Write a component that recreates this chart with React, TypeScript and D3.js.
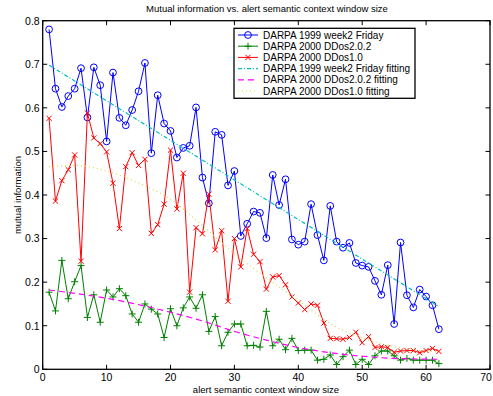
import React, { useEffect, useRef } from 'react';
import * as d3 from 'd3';

// window sizes 1..62
const windowSizes = d3.range(1, 63);

const friday1999 = [
  0.78, 0.644, 0.602, 0.627, 0.644, 0.691, 0.578, 0.693, 0.652, 0.523,
  0.681, 0.577, 0.56, 0.595, 0.638, 0.703, 0.496, 0.629, 0.564, 0.547,
  0.486, 0.508, 0.513, 0.601, 0.44, 0.381, 0.545, 0.538, 0.422, 0.455,
  0.306, 0.334, 0.362, 0.359, 0.301, 0.446, 0.377, 0.436, 0.298, 0.286,
  0.293, 0.379, 0.308, 0.25, 0.375, 0.293, 0.279, 0.29, 0.244, 0.238,
  0.235, 0.203, 0.171, 0.239, 0.104, 0.291, 0.17, 0.142, 0.183, 0.167,
  0.147, 0.092,
];

const ddos202 = [
  0.177, 0.134, 0.25, 0.162, 0.201, 0.238, 0.119, 0.171, 0.108, 0.182,
  0.166, 0.185, 0.169, 0.127, 0.108, 0.15, 0.138, 0.127, 0.073, 0.139,
  0.1, 0.141, 0.166, 0.14, 0.171, 0.087, 0.121, 0.054, 0.085, 0.104,
  0.104, 0.054, 0.055, 0.051, 0.133, 0.054, 0.069, 0.045, 0.071, 0.043,
  0.044, 0.044, 0.021, 0.023, 0.033, 0.011, 0.029, 0.044, 0.011, 0.023,
  0.011, 0.031, 0.042, 0.042, 0.031, 0.021, 0.025, 0.021, 0.021, 0.021,
  0.021, 0.013,
];

const ddos10 = [
  0.576, 0.386, 0.433, 0.458, 0.492, 0.248, 0.588, 0.531, 0.518, 0.499,
  0.427, 0.323, 0.465, 0.497, 0.468, 0.482, 0.312, 0.332, 0.379, 0.503,
  0.368, 0.45, 0.177, 0.325, 0.311, 0.402, 0.274, 0.318, 0.156, 0.3,
  0.235, 0.323, 0.264, 0.247, 0.184, 0.212, 0.215, 0.194, 0.166, 0.152,
  0.137, 0.15, 0.147, 0.106, 0.071, 0.07, 0.069, 0.073, 0.085, 0.061,
  0.075, 0.05, 0.052, 0.05, 0.039, 0.042, 0.043, 0.043, 0.038, 0.043,
  0.048, 0.041,
];

// fitted curves, read at a few window sizes
const fit1999X = [1, 62];
const fit1999Y = [0.698, 0.144];
const fit202X = [1, 10, 20, 25, 30, 35, 40, 45, 50, 55, 62];
const fit202Y = [0.182, 0.163, 0.131, 0.111, 0.087, 0.067, 0.05, 0.038, 0.03, 0.025, 0.023];
const fit10X = [1, 5, 10, 15, 20, 25, 30, 35, 40, 45, 50, 55, 62];
const fit10Y = [0.465, 0.468, 0.455, 0.428, 0.39, 0.33, 0.265, 0.21, 0.158, 0.105, 0.072, 0.052, 0.04];

const xTicks = [0, 10, 20, 30, 40, 50, 60, 70];
const yTicks = [0, 0.1, 0.2, 0.3, 0.4, 0.5, 0.6, 0.7, 0.8];

const legendLabels = [
  'DARPA 1999 week2 Friday',
  'DARPA 2000 DDos2.0.2',
  'DARPA 2000 DDos1.0',
  'DARPA 1999 week2 Friday fitting',
  'DARPA 2000 DDos2.0.2 fitting',
  'DARPA 2000 DDos1.0 fitting',
];

const W = 493;
const H = 396;
const FONT = 'Liberation Sans, Arial, Helvetica, sans-serif';

const BLUE = '#0000ff';
const GREEN = '#008000';
const RED = '#ff0000';
const CYAN = '#00bfbf';
const MAGENTA = '#ff00ff';
const YELLOW = '#d9d94a';

function drawMarker(g, kind, x, y, color) {
  if (kind === 'o') {
    g.append('circle').attr('cx', x).attr('cy', y).attr('r', 3.4)
      .attr('fill', 'none').attr('stroke', color).attr('stroke-width', 1);
  } else if (kind === '+') {
    const s = 3.5;
    g.append('path').attr('d', `M${x - s},${y}H${x + s}M${x},${y - s}V${y + s}`)
      .attr('stroke', color).attr('stroke-width', 1);
  } else if (kind === 'x') {
    const s = 2.6;
    g.append('path').attr('d', `M${x - s},${y - s}L${x + s},${y + s}M${x - s},${y + s}L${x + s},${y - s}`)
      .attr('stroke', color).attr('stroke-width', 1);
  }
}

function MutualInfoChart() {
  const svgRef = useRef();

  useEffect(() => {
    const svg = d3.select(svgRef.current);
    svg.selectAll('*').remove();

    const left = 42.7, right = 490, top = 20.7, bottom = 369.3;
    const x = d3.scaleLinear().domain([0, 70]).range([left, right]);
    const y = d3.scaleLinear().domain([0, 0.8]).range([bottom, top]);

    const line = d3.line()
      .x(d => x(d[0]))
      .y(d => y(d[1]));
    const smooth = d3.line()
      .x(d => x(d[0]))
      .y(d => y(d[1]))
      .curve(d3.curveMonotoneX);

    // fitting curves
    const fits = [
      { xs: fit1999X, ys: fit1999Y, color: CYAN, dash: '4,2,1,2', gen: line },
      { xs: fit202X, ys: fit202Y, color: MAGENTA, dash: '6,4', gen: smooth },
      { xs: fit10X, ys: fit10Y, color: YELLOW, dash: '1,3', gen: smooth },
    ];

    // data series
    const series = [
      { values: friday1999, color: BLUE, marker: 'o' },
      { values: ddos202, color: GREEN, marker: '+' },
      { values: ddos10, color: RED, marker: 'x' },
    ];

    series.forEach(s => {
      const pts = windowSizes.map((w, i) => [w, s.values[i]]);
      svg.append('path')
        .attr('d', line(pts))
        .attr('fill', 'none')
        .attr('stroke', s.color)
        .attr('stroke-width', 1);
      const g = svg.append('g');
      pts.forEach(p => drawMarker(g, s.marker, x(p[0]), y(p[1]), s.color));
    });

    fits.forEach(f => {
      const pts = f.xs.map((w, i) => [w, f.ys[i]]);
      svg.append('path')
        .attr('d', f.gen(pts))
        .attr('fill', 'none')
        .attr('stroke', f.color)
        .attr('stroke-width', 1.2)
        .attr('stroke-dasharray', f.dash);
    });

    // axes box with inward ticks on all sides
    const axes = svg.append('g').attr('stroke', '#000').attr('stroke-width', 1);
    axes.append('rect')
      .attr('x', left).attr('y', top)
      .attr('width', right - left).attr('height', bottom - top)
      .attr('fill', 'none').attr('stroke-width', 1.3);
    const tl = 4.5;
    xTicks.forEach(t => {
      axes.append('line').attr('x1', x(t)).attr('x2', x(t)).attr('y1', bottom).attr('y2', bottom - tl);
      axes.append('line').attr('x1', x(t)).attr('x2', x(t)).attr('y1', top).attr('y2', top + tl);
    });
    yTicks.forEach(t => {
      axes.append('line').attr('x1', left).attr('x2', left + tl).attr('y1', y(t)).attr('y2', y(t));
      axes.append('line').attr('x1', right).attr('x2', right - tl).attr('y1', y(t)).attr('y2', y(t));
    });

    const text = svg.append('g').attr('font-family', FONT).attr('fill', '#000');
    xTicks.forEach(t => {
      // last label would run past the page edge, keep it inside
      const tx = Math.min(x(t), W - 7);
      text.append('text')
        .attr('x', tx).attr('y', bottom + 12)
        .attr('text-anchor', 'middle').attr('font-size', 10.5)
        .text(t);
    });
    yTicks.forEach(t => {
      text.append('text')
        .attr('x', left - 3).attr('y', y(t) + 3.8)
        .attr('text-anchor', 'end').attr('font-size', 10.5)
        .text(t === 0 ? '0' : d3.format('.1f')(t));
    });

    text.append('text')
      .attr('x', 267).attr('y', 12)
      .attr('text-anchor', 'middle').attr('font-size', 9.5)
      .text('Mutual information vs. alert semantic context window size');
    text.append('text')
      .attr('x', 266).attr('y', 393)
      .attr('text-anchor', 'middle').attr('font-size', 9.5)
      .text('alert semantic context window size');
    text.append('text')
      .attr('transform', `translate(21,${(top + bottom) / 2}) rotate(-90)`)
      .attr('text-anchor', 'middle').attr('font-size', 9.5)
      .text('mutual information');

    // legend
    const lg = svg.append('g');
    lg.append('rect')
      .attr('x', 234).attr('y', 28.3)
      .attr('width', 181).attr('height', 70)
      .attr('fill', '#fff').attr('stroke', '#000').attr('stroke-width', 1.3);
    const entries = [
      { color: BLUE, marker: 'o' },
      { color: GREEN, marker: '+' },
      { color: RED, marker: 'x' },
      { color: CYAN, dash: '4,2,1,2' },
      { color: MAGENTA, dash: '6,4' },
      { color: YELLOW, dash: '1,3' },
    ];
    entries.forEach((e, i) => {
      const ly = 35 + i * 11.2;
      lg.append('line')
        .attr('x1', 238).attr('x2', 258).attr('y1', ly).attr('y2', ly)
        .attr('stroke', e.color).attr('stroke-width', e.dash ? 1.2 : 1)
        .attr('stroke-dasharray', e.dash || null);
      if (e.marker) drawMarker(lg, e.marker, 248, ly, e.color);
      lg.append('text')
        .attr('x', 263).attr('y', ly + 3.5)
        .attr('font-family', FONT).attr('font-size', 10)
        .text(legendLabels[i]);
    });
  }, []);

  return <svg ref={svgRef} width={W} height={H} style={{ display: 'block' }} />;
}

export default function App() {
  return (
    <div style={{ position: 'absolute', left: 0, top: 0, width: W, height: H, background: '#fff' }}>
      <MutualInfoChart />
    </div>
  );
}
